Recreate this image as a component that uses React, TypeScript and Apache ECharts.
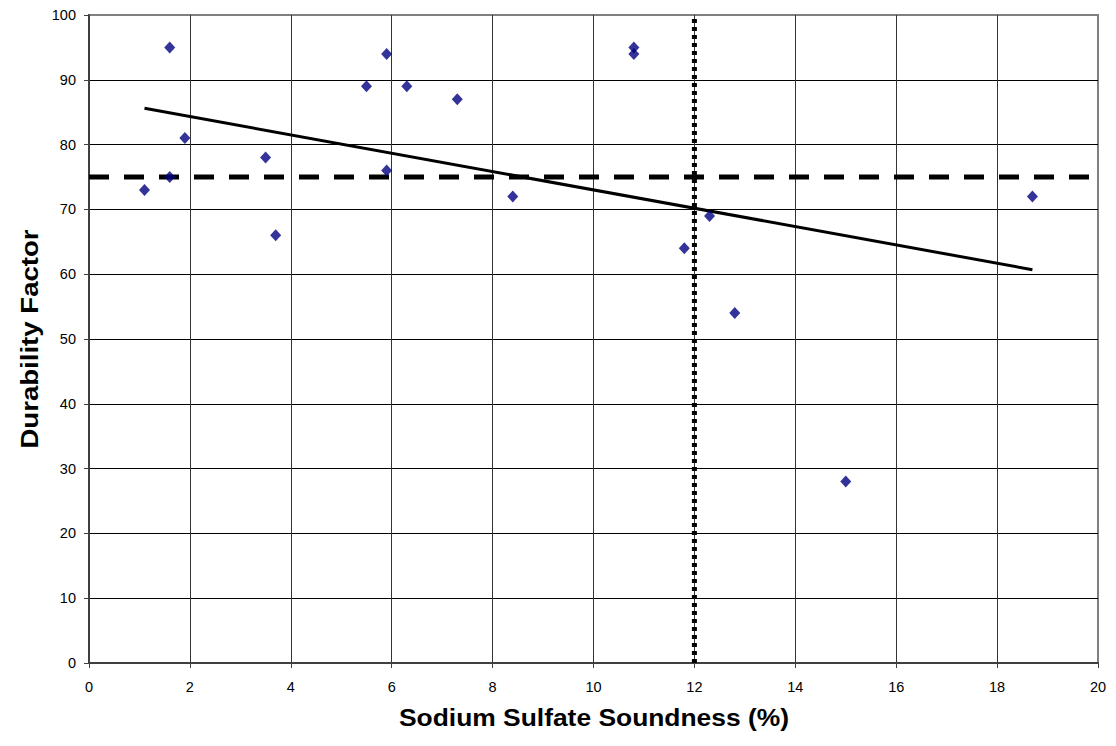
import React, { useEffect, useRef } from "react";
import * as echarts from "echarts";

const soundness = [1.1, 1.6, 1.6, 1.9, 3.5, 3.7, 5.5, 5.9, 5.9, 6.3, 7.3, 8.4, 10.8, 10.8, 11.8, 12.3, 12.8, 15.0, 18.7];
const durability = [73, 95, 75, 81, 78, 66, 89, 94, 76, 89, 87, 72, 95, 94, 64, 69, 54, 28, 72];
const trendX = [1.1, 18.7];
const trendY = [85.6, 60.7];
const durabilityLimit = 75;
const soundnessLimit = 12;
const xRange = [0, 20];
const yRange = [0, 100];
const xTitle = "Sodium Sulfate Soundness (%)";
const yTitle = "Durability Factor";

const FONT = "'Liberation Sans', Arial, sans-serif";

export default function App() {
  const ref = useRef<HTMLDivElement>(null);
  useEffect(() => {
    if (!ref.current) return;
    const chart = echarts.init(ref.current, null, { renderer: "svg" });
    const points = soundness.map((x, i) => [x, durability[i]]);
    const trend = trendX.map((x, i) => [x, trendY[i]]);
    chart.setOption({
      animation: false,
      backgroundColor: "#ffffff",
      grid: {
        left: 89,
        top: 15,
        right: 18,
        bottom: 83,
        show: true,
        borderColor: "#808080",
        borderWidth: 2,
        backgroundColor: "transparent",
      },
      graphic: [
        {
          type: "text",
          x: 594,
          y: 717,
          scaleX: 1.1,
          style: {
            text: xTitle,
            fontFamily: FONT,
            fontSize: 24,
            fontWeight: "bold",
            fill: "#000",
            align: "center",
            verticalAlign: "middle",
          },
        },
        {
          type: "text",
          x: 30,
          y: 339,
          rotation: Math.PI / 2,
          scaleX: 1.2,
          style: {
            text: yTitle,
            fontFamily: FONT,
            fontSize: 23,
            fontWeight: "bold",
            fill: "#000",
            align: "center",
            verticalAlign: "middle",
          },
        },
      ],
      xAxis: {
        type: "value",
        min: xRange[0],
        max: xRange[1],
        interval: 2,
        axisLine: { show: true, onZero: false, lineStyle: { color: "#404040", width: 2 } },
        axisTick: { show: true, inside: false, length: 5, lineStyle: { color: "#404040", width: 1 } },
        axisLabel: { fontFamily: FONT, fontSize: 14.5, color: "#000", margin: 16 },
        splitLine: { show: true, showMinLine: false, showMaxLine: false, lineStyle: { color: "#333", width: 1 } },
      },
      yAxis: {
        type: "value",
        min: yRange[0],
        max: yRange[1],
        interval: 10,
        axisLine: { show: true, onZero: false, lineStyle: { color: "#404040", width: 2 } },
        axisTick: { show: true, inside: false, length: 5, lineStyle: { color: "#404040", width: 1 } },
        axisLabel: { fontFamily: FONT, fontSize: 14.5, color: "#000", margin: 13 },
        splitLine: { show: true, showMinLine: false, showMaxLine: false, lineStyle: { color: "#000", width: 1 } },
      },
      series: [
        {
          type: "line",
          data: [[soundnessLimit, yRange[0]], [soundnessLimit, yRange[1]]],
          symbol: "none",
          clip: false,
          lineStyle: { color: "#000", width: 5, type: [4, 4], cap: "butt" },
          z: 3,
        },
        {
          type: "line",
          data: [[xRange[0], durabilityLimit], [xRange[1], durabilityLimit]],
          symbol: "none",
          lineStyle: { color: "#000", width: 5, type: [20, 15], cap: "butt" },
          z: 3,
        },
        {
          type: "line",
          data: trend,
          symbol: "none",
          lineStyle: { color: "#000", width: 3 },
          z: 4,
        },
        {
          type: "scatter",
          data: points,
          symbol: "diamond",
          symbolSize: [11, 12],
          itemStyle: { color: "#000080" },
          z: 5,
        },
      ],
    });
    return () => chart.dispose();
  }, []);
  return (
    <div
      ref={ref}
      style={{ position: "absolute", left: 0, top: 0, width: 1116, height: 746, background: "#fff" }}
    />
  );
}
